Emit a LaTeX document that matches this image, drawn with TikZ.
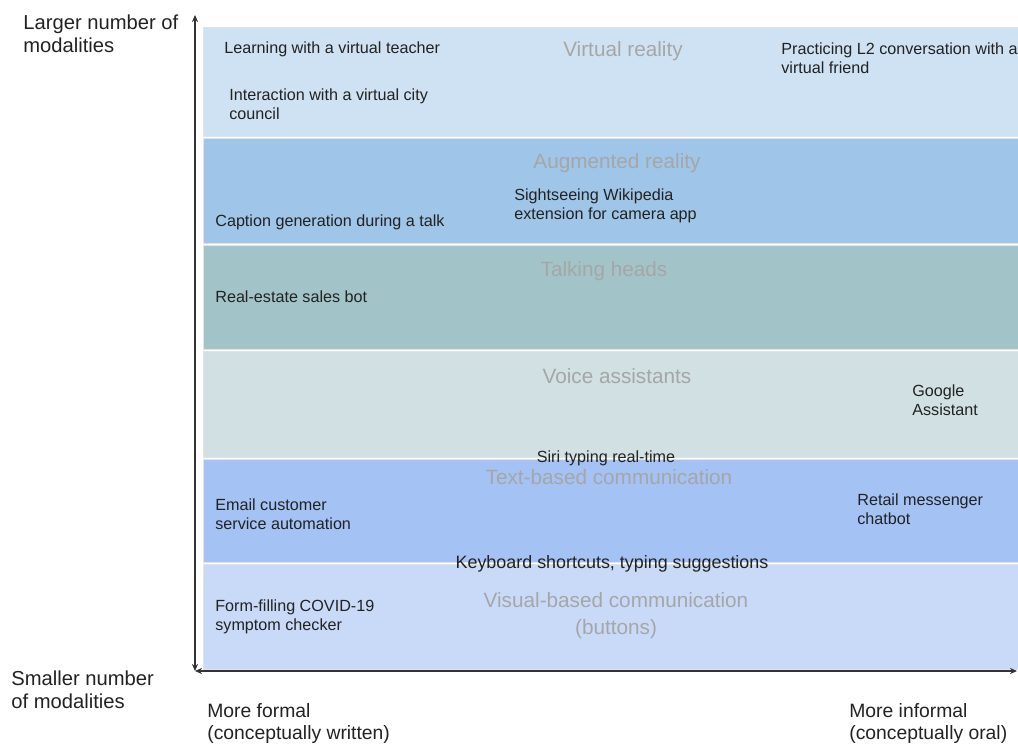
\documentclass[tikz,border=0pt]{standalone}
\usepackage{fontspec}
\setmainfont{Liberation Sans}
\usetikzlibrary{arrows.meta}

\definecolor{bandA}{HTML}{CFE2F3}
\definecolor{bandB}{HTML}{9FC5E8}
\definecolor{bandC}{HTML}{A2C4C9}
\definecolor{bandD}{HTML}{D0E0E3}
\definecolor{bandE}{HTML}{A4C2F4}
\definecolor{bandF}{HTML}{C9DAF8}
\definecolor{titlegray}{HTML}{A6A6A6}
\definecolor{casetext}{HTML}{222222}

\newcommand{\casefont}{\fontsize{9.2}{10.6}\selectfont}
\newcommand{\bandfont}{\fontsize{11.8}{15.3}\selectfont}
\newcommand{\axisfont}{\fontsize{11.5}{12.8}\selectfont}

\tikzstyle{band} = [draw=gray!22, line width=0.5pt]
\tikzstyle{bandtitle} = [font=\bandfont, text=titlegray, anchor=base, inner sep=0pt, align=center]
\tikzstyle{usecase} = [font=\casefont, text=casetext, anchor=base west, inner sep=0pt, align=left]
\tikzstyle{midcase} = [usecase, anchor=base, align=center]
\tikzstyle{axislabel} = [font=\axisfont, text=casetext, anchor=base west, inner sep=0pt, align=left]
\tikzstyle{axis} = [draw=black!80, line width=0.8pt, {Stealth[length=4pt,width=3.5pt]}-{Stealth[length=4pt,width=3.5pt]}]

\begin{document}
\begin{tikzpicture}[x=0.02cm, y=-0.02cm]
      \useasboundingbox (0,0) rectangle (1018,744);
      % bands
      \foreach \top/\bottom/\shade in {
        27/136/bandA, 138/243/bandB, 245/349/bandC,
        351/457/bandD, 459/562/bandE, 564/669/bandF}
      {
        \draw[band, fill=\shade] (203,\top) rectangle (1040,\bottom);
      };
      % band titles (y = baseline of last line)
      \foreach \nodename/\x/\y/\label in {
        vr/623/56/Virtual reality,
        ar/617/168/Augmented reality,
        heads/604/276/Talking heads,
        voice/617/383/Voice assistants,
        textcom/609/484/Text-based communication,
        visualcom/616/634/{Visual-based communication\\(buttons)}}
      {
        \node[bandtitle] (\nodename) at (\x,\y) {\label};
      };
      % use cases
      \foreach \nodename/\x/\y/\label in {
        teacher/224/53/Learning with a virtual teacher,
        council/229/119/{Interaction with a virtual city\\council},
        friend/781/73/{Practicing L2 conversation with a\\virtual friend},
        sights/514/219/{Sightseeing Wikipedia\\extension for camera app},
        caption/215/226/Caption generation during a talk,
        realestate/215/302/Real-estate sales bot,
        google/912/415/{Google\\Assistant},
        email/215/529/{Email customer\\service automation},
        retail/857/524/{Retail messenger\\chatbot},
        covid/215/630/{Form-filling COVID-19\\symptom checker}}
      {
        \node[usecase] (\nodename) at (\x,\y) {\label};
      };
      \node[midcase] (siri) at (606,462) {Siri typing real-time};
      \node[midcase, font=\fontsize{10.2}{11.5}\selectfont] (keyboard) at (612,568) {Keyboard shortcuts, typing suggestions};
      % axes
      \coordinate (origin) at (195,671);
      \coordinate (ytop) at (195,15);
      \coordinate (xend) at (1017,671);
      \draw[axis] (origin) -- (ytop);
      \draw[axis] (origin) -- (xend);
      \node[axislabel] (more) at (23,52) {Larger number of\\modalities};
      \node[axislabel] (fewer) at (11,708) {Smaller number\\of modalities};
      \node[axislabel, font=\fontsize{11}{12.2}\selectfont] (formal) at (207,739) {More formal\\(conceptually written)};
      \node[axislabel, font=\fontsize{11}{12.2}\selectfont] (informal) at (849,739) {More informal\\(conceptually oral)};
    \end{tikzpicture}
\end{document}
